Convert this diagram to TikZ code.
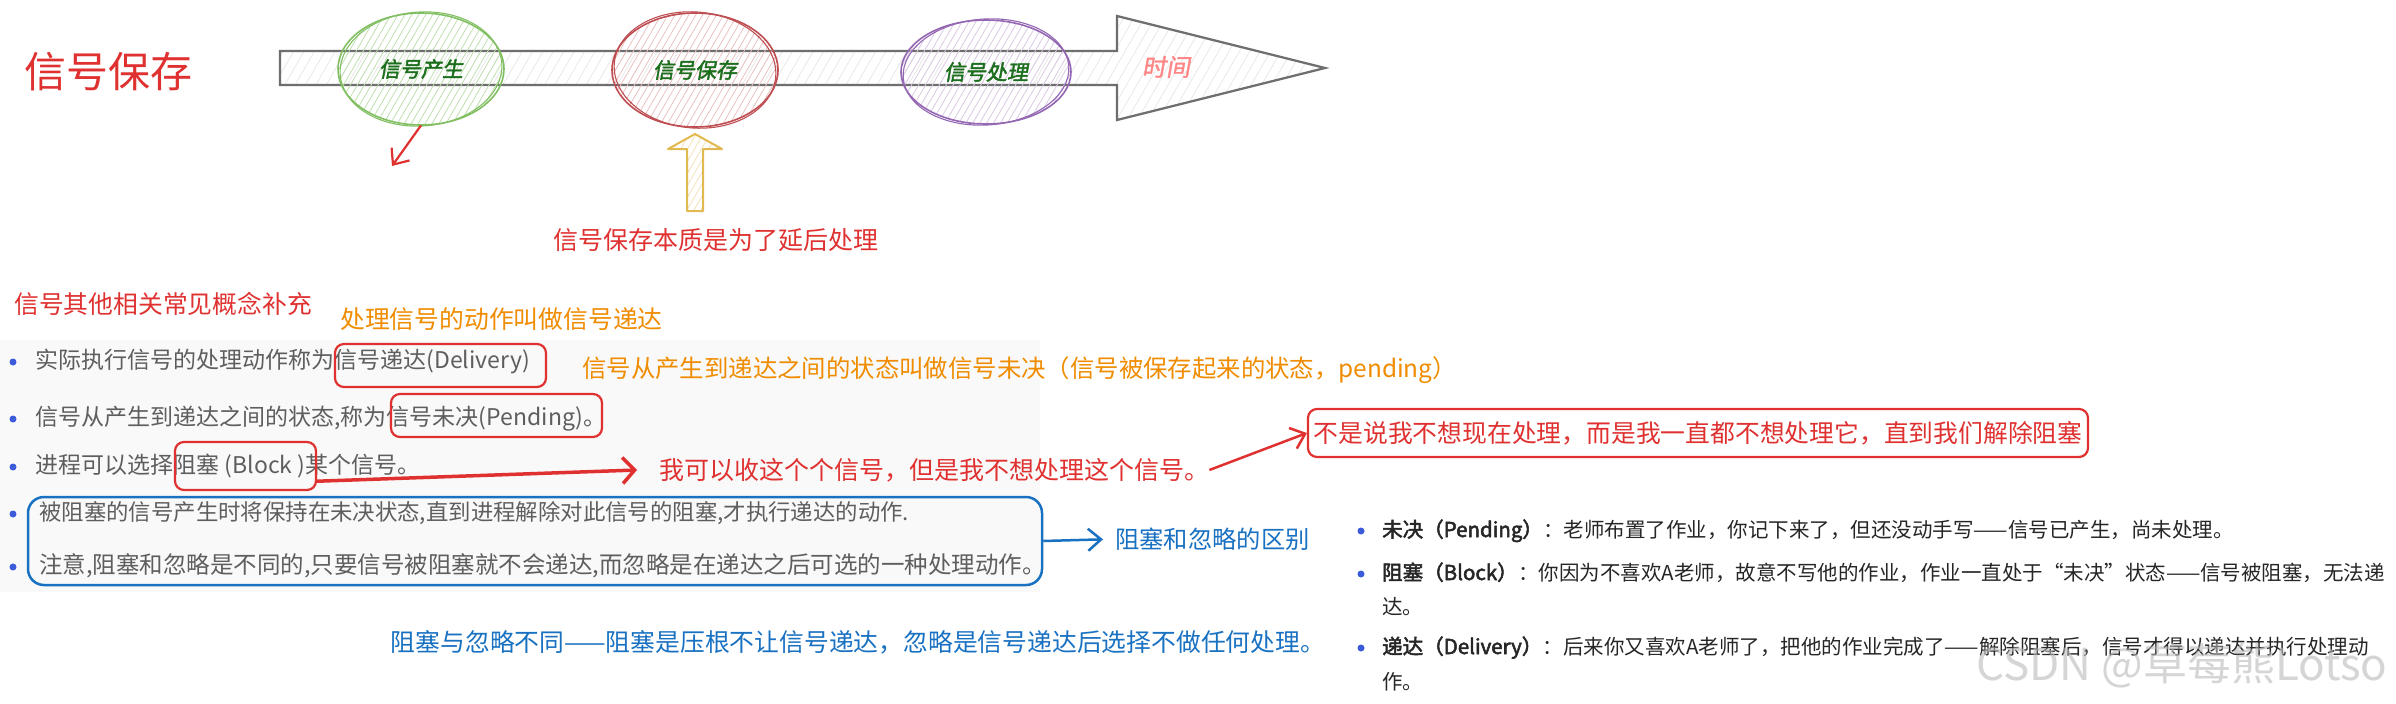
\documentclass[tikz,border=0pt]{standalone}
\usepackage{fontspec}
\setmainfont{Noto Sans CJK SC}
\newfontfamily\cjkbi{Noto Sans CJK SC}[FakeSlant=0.18,FakeBold=2]
\newfontfamily\cjkit{Noto Sans CJK SC}[FakeSlant=0.18,FakeBold=1.5]
\newfontfamily\cjkbold{Noto Sans CJK SC}[FakeBold=2.5]
\usetikzlibrary{shapes.geometric,patterns.meta,arrows.meta}
\definecolor{hred}{HTML}{E03131}
\definecolor{horange}{HTML}{F08C00}
\definecolor{hblue}{HTML}{1971C2}
\definecolor{dgreen}{HTML}{1B6E1B}
\definecolor{cgreen}{HTML}{82BF63}
\definecolor{cred}{HTML}{BF4E52}
\definecolor{cpurple}{HTML}{9467B3}
\definecolor{shaftgray}{HTML}{6E6E6E}
\definecolor{yel}{HTML}{E2B850}
\definecolor{bulblue}{HTML}{3B5BDB}
\definecolor{txtgray}{HTML}{5E5E5E}
\definecolor{pinkish}{HTML}{FF8787}
\newcommand\myfs[1]{\fontsize{#1}{#1}\selectfont}
\begin{document}
\begin{tikzpicture}[x=1pt,y=-1pt,
  hand/.style={inner sep=0pt},
  circ/.style={ellipse, line width=1.6pt, font=\cjkbi\myfs{21}, text=dgreen, inner sep=0pt,
    pattern={Lines[angle=60,distance=6pt,line width=0.8pt]}},
  redbox/.style={draw=hred, line width=2.2pt, rounded corners=9pt},
  bul/.style={circle, fill=bulblue, minimum size=7pt, inner sep=0pt},
  gtxt/.style={text=txtgray, font=\myfs{23}, inner sep=0pt, anchor=base west},
  rtxt/.style={text=black!85, font=\myfs{20.5}, inner sep=0pt, anchor=base west},
  barb/.style={-{Straight Barb[length=13pt,width=22pt]}}]
\useasboundingbox (0,0) rectangle (2396,704);
\fill[white] (0,0) rectangle (2396,704);
\fill[gray!5] (0,340) rectangle (1040,592);

\node[hand, text=hred, font=\myfs{42}] (title) at (108,72) {信号保存};

% timeline arrow
\draw[line width=2.2pt, draw=shaftgray, line join=miter,
  pattern={Lines[angle=60,distance=9pt,line width=0.6pt]}, pattern color=gray!22]
  (280,51) -- (1117,51) -- (1117,16) -- (1325,68) -- (1117,120) -- (1117,85) -- (280,85) -- cycle;

\node[circ, draw=cgreen, pattern color=cgreen!50, minimum width=166pt, minimum height=112pt] (gen) at (421,69) {信号产生};
\draw[cgreen, line width=1.1pt] (gen.center) ellipse [x radius=81pt, y radius=57pt, rotate=4];
\node[circ, draw=cred, pattern color=cred!35, minimum width=166pt, minimum height=114pt] (sto) at (695,70) {信号保存};
\draw[cred, line width=1.1pt] (sto.center) ellipse [x radius=81pt, y radius=58pt, rotate=-5];
\node[circ, draw=cpurple, pattern color=cpurple!35, minimum width=170pt, minimum height=104pt] (pro) at (986,72) {信号处理};
\draw[cpurple, line width=1.1pt] (pro.center) ellipse [x radius=83pt, y radius=53pt, rotate=4];
\node[hand, font=\cjkit\myfs{24}, text=pinkish] (time) at (1166,67) {时间};

\coordinate (c1) at (392,166);
\draw[hred, line width=2.2pt, barb] (gen.south) -- (c1);

% hollow yellow arrow
\draw[draw=yel, line width=2pt, line join=round,
  pattern={Lines[angle=60,distance=6pt,line width=0.7pt]}, pattern color=yel!45]
  (695,134) -- (722,149) -- (703,149) -- (703,211) -- (687,211) -- (687,149) -- (668,149) -- cycle;

\node[hand, text=hred, font=\myfs{25}] (essence) at (716,240) {信号保存本质是为了延后处理};

\node[hand, text=hred, anchor=west, font=\myfs{24.8}] (other) at (14,304) {信号其他相关常见概念补充};
\node[hand, text=horange, anchor=west, font=\myfs{24.8}] (deliv) at (340,319) {处理信号的动作叫做信号递达};

% bullet list
\node[bul] (d1) at (13,362) {};
\node[gtxt] (b1a) at (35,368) {实际执行信号的处理动作称为};
\node[gtxt] (b1b) at (b1a.base east) {信号递达(Delivery)};
\node[bul] (d2) at (13,419) {};
\node[gtxt] (b2a) at (35,425) {信号从产生到递达之间的状态,称为};
\node[gtxt] (b2b) at (b2a.base east) {信号未决(Pending)。};
\node[bul] (d3) at (13,467) {};
\node[gtxt] (b3a) at (35,473) {进程可以选择};
\node[gtxt] (b3b) at (b3a.base east) {阻塞 (Block )};
\node[gtxt] (b3c) at (b3b.base east) {某个信号。};
\node[bul] (d4) at (13,514) {};
\node[gtxt, font=\myfs{22.4}] (b4) at (39,520) {被阻塞的信号产生时将保持在未决状态,直到进程解除对此信号的阻塞,才执行递达的动作.};
\node[bul] (d5) at (13,567) {};
\node[gtxt, font=\myfs{23.5}] (b5) at (39,573) {注意,阻塞和忽略是不同的,只要信号被阻塞就不会递达,而忽略是在递达之后可选的一种处理动作。};

\node[redbox, minimum width=211pt, minimum height=43pt] (box1) at (440.5,365.5) {};
\node[redbox, minimum width=211pt, minimum height=43pt] (box2) at (496.5,415.5) {};
\node[redbox, minimum width=141pt, minimum height=48pt] (box3) at (245.5,466) {};

\node[hand, text=horange, anchor=west, font=\myfs{24.4}] (pend) at (582,370) {信号从产生到递达之间的状态叫做信号未决（信号被保存起来的状态，pending）};

\node[hand, text=hred, anchor=west, font=\myfs{25}] (t1) at (659,470) {我可以收这个个信号，但是我不想处理这个信号。};
\draw[hred, line width=3.5pt, -{Straight Barb[length=12pt,width=26pt]}] (box3.-12) -- ([xshift=-22pt]t1.west);

\node[redbox, text=hred, font=\myfs{24.8}, inner xsep=0pt, inner ysep=0pt, minimum width=780pt, minimum height=48pt] (rbox) at (1698,433) {不是说我不想现在处理，而是我一直都不想处理它，直到我们解除阻塞};
\draw[hred, line width=2.5pt, barb] (t1.east) -- (rbox.west);

\node[draw=hblue, line width=2.5pt, rounded corners=16pt, minimum width=1014pt, minimum height=88pt] (bbox) at (535,541) {};
\node[hand, text=hblue, anchor=west, font=\myfs{24.3}] (diff) at (1115,539) {阻塞和忽略的区别};
\draw[hblue, line width=2.5pt, barb, shorten >=12pt] (bbox.east) -- (diff.west);

\node[hand, text=hblue, font=\myfs{24.8}] (note) at (858,642) {阻塞与忽略不同——阻塞是压根不让信号递达，忽略是信号递达后选择不做任何处理。};

% right block
\node[bul] (r1d) at (1361,531) {};
\node[rtxt] (r1a) at (1382,537) {\cjkbold 未决（Pending）};
\node[rtxt] (r1b) at (r1a.base east) {：老师布置了作业，你记下来了，但还没动手写——信号已产生，尚未处理。};
\node[bul] (r2d) at (1361,574) {};
\node[rtxt] (r2a) at (1382,580) {\cjkbold 阻塞（Block）};
\node[rtxt] (r2b) at (r2a.base east) {：你因为不喜欢A老师，故意不写他的作业，作业一直处于“未决”状态——信号被阻塞，无法递};
\node[rtxt] (r2c) at (1382,614) {达。};
\node[bul] (r3d) at (1361,648) {};
\node[rtxt] (r3a) at (1382,654) {\cjkbold 递达（Delivery）};
\node[rtxt] (r3b) at (r3a.base east) {：后来你又喜欢A老师了，把他的作业完成了——解除阻塞后，信号才得以递达并执行处理动};
\node[rtxt] (r3c) at (1382,689) {作。};

\node[hand, font=\myfs{44}, text=gray!55, opacity=0.6] (wm) at (2182,666) {CSDN @草莓熊Lotso};
\end{tikzpicture}
\end{document}
